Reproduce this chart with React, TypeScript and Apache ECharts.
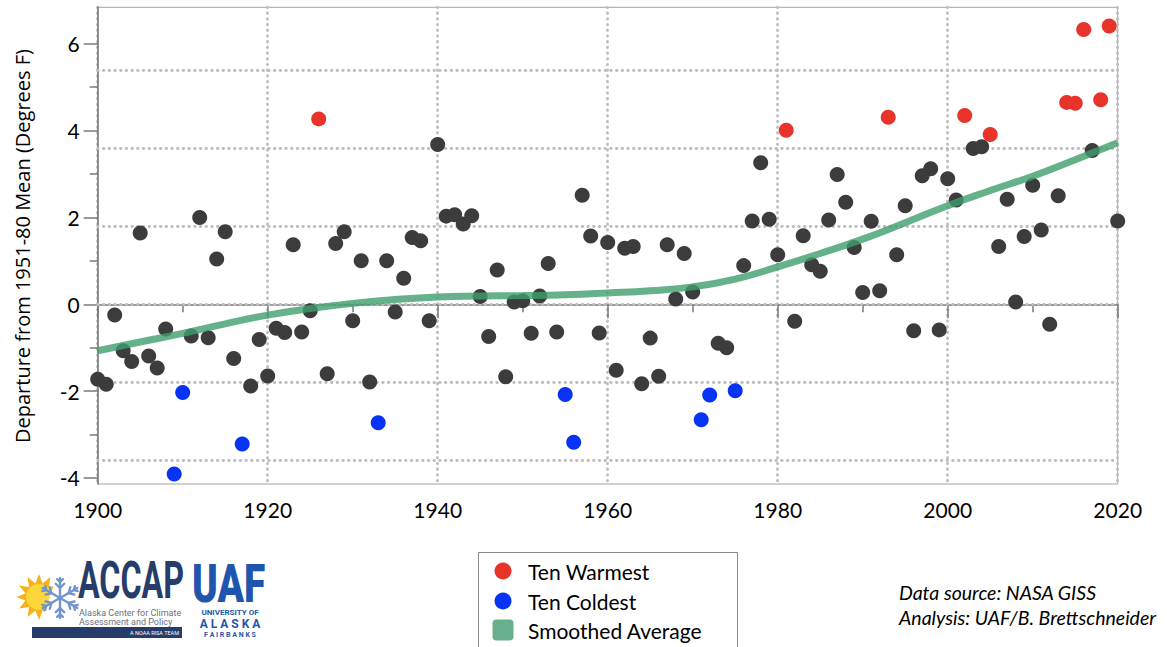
import React, { useEffect, useRef } from "react";
import * as echarts from "echarts";

// ---------- DATA ----------
const startYear = 1900;
// Annual temperature departure (°F) from 1951-80 mean, 1900..2020
const anomalies: number[] = [
  -1.73, -1.84, -0.25, -1.07, -1.32, 1.64, -1.19, -1.47, -0.57, -3.91, // 1900-1909
  -2.03, -0.73, 2.0, -0.77, 1.04, 1.67, -1.25, -3.22, -1.88, -0.81, // 1910-1919
  -1.65, -0.55, -0.65, 1.37, -0.64, -0.15, 4.27, -1.6, 1.4, 1.67, // 1920-1929
  -0.38, 1.0, -1.79, -2.73, 1.0, -0.18, 0.6, 1.54, 1.46, -0.38, // 1930-1939
  3.68, 2.03, 2.06, 1.85, 2.04, 0.18, -0.74, 0.79, -1.67, 0.05, // 1940-1949
  0.08, -0.67, 0.19, 0.94, -0.64, -2.08, -3.18, 2.51, 1.57, -0.66, // 1950-1959
  1.42, -1.52, 1.29, 1.33, -1.83, -0.78, -1.66, 1.37, 0.12, 1.17, // 1960-1969
  0.28, -2.66, -2.09, -0.9, -1.0, -1.99, 0.89, 1.92, 3.26, 1.96, // 1970-1979
  1.14, 4.01, -0.39, 1.58, 0.91, 0.76, 1.94, 2.99, 2.35, 1.31, // 1980-1989
  0.27, 1.91, 0.31, 4.31, 1.14, 2.27, -0.61, 2.96, 3.12, -0.59, // 1990-1999
  2.89, 2.4, 4.35, 3.59, 3.63, 3.91, 1.33, 2.42, 0.05, 1.56, // 2000-2009
  2.74, 1.71, -0.46, 2.5, 4.65, 4.63, 6.33, 3.54, 4.71, 6.41, // 2010-2019
  1.92, // 2020
];
const warmestYears = [1926, 1981, 1993, 2002, 2005, 2014, 2015, 2016, 2018, 2019];
const coldestYears = [1909, 1910, 1917, 1933, 1955, 1956, 1971, 1972, 1975];

const smoothYears = [1900, 1905, 1910, 1915, 1920, 1925, 1930, 1935, 1940, 1945, 1950, 1955, 1960,
  1965, 1970, 1975, 1980, 1985, 1990, 1995, 2000, 2005, 2010, 2015, 2020];
const smoothValues = [-1.07, -0.87, -0.67, -0.45, -0.25, -0.1, 0.02, 0.11, 0.17, 0.19, 0.2, 0.22, 0.26,
  0.31, 0.4, 0.58, 0.86, 1.17, 1.5, 1.88, 2.27, 2.62, 2.95, 3.33, 3.72];

const yLabelValues = [-4, -2, 0, 2, 4, 6];
const yMinorTickValues = [-3, -1, 1, 3, 5];
const celsiusGridF = [-3.6, -1.8, 0, 1.8, 3.6, 5.4]; // whole °C steps, in °F
const yMin = -4.14;
const yMax = 6.84;

const yTitle = "Departure from 1951-80 Mean (Degrees F)";
const legendLabels = ["Ten Warmest", "Ten Coldest", "Smoothed Average"];
const sourceLines = ["Data source: NASA GISS", "Analysis: UAF/B. Brettschneider"];

// ---------- STYLE ----------
const RED = "#e8332a";
const BLUE = "#0633f5";
const GRAY = "#3c3c3c";
const GREEN = "#3f9e6c";
const NAVY = "#263d6b";
const UAFBLUE = "#1f56ad";
const FONT = "Lato, 'Open Sans', sans-serif";

const dotted = { type: [0.5, 5.2] as any, color: "#bdbdbd", width: 2.8, cap: "round" as any };

function buildLogo(): any[] {
  const els: any[] = [];
  // sun rays (star) + sun disk
  const cx = 39, cy = 597;
  const pts: number[][] = [];
  const n = 12;
  for (let i = 0; i < n * 2; i++) {
    const r = i % 2 === 0 ? 23 : 14;
    const a = (Math.PI * i) / n - Math.PI / 2;
    pts.push([cx + r * Math.cos(a), cy + r * Math.sin(a)]);
  }
  els.push({ type: "polygon", shape: { points: pts }, style: { fill: "#f6b21b" } });
  els.push({ type: "circle", shape: { cx, cy, r: 13 }, style: { fill: "#fdd63c" } });
  // cover right side (snowflake side)
  els.push({
    type: "polygon",
    shape: { points: [[59, 570], [90, 570], [90, 626], [40, 626]] },
    style: { fill: "#ffffff" },
  });
  // snowflake
  const sx = 60, sy = 598;
  const flakeStyle = { stroke: "#7394cc", lineWidth: 2.4, lineCap: "round" };
  for (let k = 0; k < 6; k++) {
    const a = (Math.PI * k) / 3 + Math.PI / 6;
    const ex = sx + 20 * Math.cos(a), ey = sy + 20 * Math.sin(a);
    els.push({ type: "line", shape: { x1: sx, y1: sy, x2: ex, y2: ey }, style: flakeStyle });
    for (const t of [0.5, 0.8]) {
      const bx = sx + 20 * t * Math.cos(a), by = sy + 20 * t * Math.sin(a);
      const bl = t === 0.5 ? 6 : 4;
      for (const s of [-1, 1]) {
        const ba = a + s * (Math.PI / 4);
        els.push({
          type: "line",
          shape: { x1: bx, y1: by, x2: bx + bl * Math.cos(ba), y2: by + bl * Math.sin(ba) },
          style: flakeStyle,
        });
      }
    }
  }
  // ACCAP
  els.push({
    type: "text", x: 78, y: 607, scaleX: 0.62,
    style: { text: "ACCAP", fill: NAVY, font: "bold 52px Roboto, 'Liberation Sans', sans-serif", verticalAlign: "bottom" },
  });
  els.push({
    type: "text", x: 79, y: 612.5,
    style: { text: "Alaska Center for Climate", fill: "#6a7180", font: "9px Roboto, sans-serif", verticalAlign: "middle" },
  });
  els.push({
    type: "text", x: 79, y: 621.5,
    style: { text: "Assessment and Policy", fill: "#6a7180", font: "9px Roboto, sans-serif", verticalAlign: "middle" },
  });
  els.push({ type: "rect", shape: { x: 32, y: 627, width: 150, height: 11 }, style: { fill: NAVY } });
  els.push({
    type: "text", x: 179, y: 632.5,
    style: { text: "A NOAA RISA TEAM", fill: "#ffffff", font: "5.5px Roboto, sans-serif", align: "right", verticalAlign: "middle" },
  });
  // UAF
  els.push({
    type: "text", x: 192, y: 610, scaleX: 0.72,
    style: { text: "UAF", fill: UAFBLUE, font: "900 54px Roboto, 'Liberation Sans', sans-serif", verticalAlign: "bottom" },
  });
  els.push({
    type: "text", x: 230, y: 612.5,
    style: { text: "UNIVERSITY OF", fill: UAFBLUE, font: "bold 8px Roboto, sans-serif", align: "center", verticalAlign: "middle" },
  });
  els.push({
    type: "text", x: 230, y: 623.5,
    style: { text: "A L A S K A", fill: UAFBLUE, font: "bold 12px Roboto, sans-serif", align: "center", verticalAlign: "middle" },
  });
  els.push({
    type: "text", x: 230, y: 635,
    style: { text: "F A I R B A N K S", fill: UAFBLUE, font: "bold 7px Roboto, sans-serif", align: "center", verticalAlign: "middle" },
  });
  return els;
}

export default function App() {
  const ref = useRef<HTMLDivElement>(null);

  useEffect(() => {
    if (!ref.current) return;
    const chart = echarts.init(ref.current, undefined, { renderer: "svg" });

    const others: number[][] = [];
    const warm: number[][] = [];
    const cold: number[][] = [];
    anomalies.forEach((v, i) => {
      const yr = startYear + i;
      if (warmestYears.includes(yr)) warm.push([yr, v]);
      else if (coldestYears.includes(yr)) cold.push([yr, v]);
      else others.push([yr, v]);
    });
    const smooth = smoothYears.map((y, i) => [y, smoothValues[i]]);

    const legendY = [571, 601, 630];

    const option: any = {
      animation: false,
      backgroundColor: "#ffffff",
      grid: {
        left: 97.7, right: 49.3, top: 7.3, bottom: 163,
        show: true, borderColor: "#a3a3a3", borderWidth: 1, backgroundColor: "transparent",
      },
      xAxis: {
        type: "value", min: 1900, max: 2020, interval: 20,
        axisLine: { lineStyle: { color: "#7a7a7a", width: 1.5 } },
        axisTick: { length: 14, lineStyle: { color: "#7a7a7a", width: 1.5 } },
        minorTick: { show: true, splitNumber: 2, length: 8, lineStyle: { color: "#7a7a7a", width: 1.5 } },
        axisLabel: { color: "#000", fontSize: 21, fontFamily: FONT, margin: 15, formatter: (v: number) => String(v) },
        splitLine: { show: true, lineStyle: dotted },
      },
      yAxis: [
        {
          type: "value", min: yMin, max: yMax,
          axisLine: { show: true, lineStyle: { color: "#7a7a7a", width: 1.5 } },
          axisTick: { show: true, customValues: yLabelValues, length: 14, lineStyle: { color: "#7a7a7a", width: 1.5 } },
          axisLabel: { customValues: yLabelValues, color: "#000", fontSize: 21, fontFamily: FONT, margin: 18 },
          splitLine: { show: false },
        },
        {
          type: "value", min: yMin, max: yMax, position: "left",
          axisLine: { show: false },
          axisTick: { show: true, customValues: yMinorTickValues, length: 8, lineStyle: { color: "#7a7a7a", width: 1.5 } },
          axisLabel: { show: false },
          splitLine: { show: false },
        },
      ],
      series: [
        {
          type: "line", name: "grid", data: [], z: 1, silent: true,
          markLine: {
            z: 1, silent: true, symbol: "none", label: { show: false },
            lineStyle: dotted,
            data: celsiusGridF.map((v) => ({ yAxis: v })),
          },
        },
        {
          type: "scatter", name: "Other", data: others, symbolSize: 15, z: 3,
          itemStyle: { color: GRAY, opacity: 1 },
        },
        {
          type: "scatter", name: legendLabels[0], data: warm, symbolSize: 15, z: 3,
          itemStyle: { color: RED, opacity: 1 },
        },
        {
          type: "scatter", name: legendLabels[1], data: cold, symbolSize: 15, z: 3,
          itemStyle: { color: BLUE, opacity: 1 },
        },
        {
          type: "line", name: legendLabels[2], data: smooth, smooth: 0.5, showSymbol: false, z: 5,
          lineStyle: { color: GREEN, width: 7, opacity: 0.8 },
        },
      ],
      graphic: [
        {
          type: "text", x: 22, y: 246, rotation: Math.PI / 2,
          style: { text: yTitle, fill: "#000", font: "20px 'Open Sans', Lato, sans-serif", align: "center", verticalAlign: "middle" },
        },
        // legend box
        {
          type: "rect", shape: { x: 478.5, y: 552.5, width: 259, height: 120 },
          style: { fill: "#ffffff", stroke: "#8a8a8a", lineWidth: 1 },
        },
        { type: "circle", shape: { cx: 503, cy: legendY[0], r: 8.5 }, style: { fill: RED } },
        { type: "circle", shape: { cx: 503, cy: legendY[1], r: 8.5 }, style: { fill: BLUE } },
        {
          type: "rect", shape: { x: 492.5, y: legendY[2] - 10.5, width: 21, height: 21, r: 4 },
          style: { fill: "#67b08b" },
        },
        ...legendLabels.map((t, i) => ({
          type: "text", x: 528, y: legendY[i],
          style: { text: t, fill: "#000", font: `21px ${FONT}`, verticalAlign: "middle" },
        })),
        ...sourceLines.map((t, i) => ({
          type: "text", x: 899, y: 592 + i * 25,
          style: { text: t, fill: "#000", font: `italic 19.5px ${FONT}`, verticalAlign: "middle" },
        })),
        ...buildLogo(),
      ],
    };

    chart.setOption(option);
    return () => chart.dispose();
  }, []);

  return (
    <div
      ref={ref}
      style={{ position: "fixed", left: 0, top: 0, width: 1167, height: 647, background: "#fff" }}
    />
  );
}
